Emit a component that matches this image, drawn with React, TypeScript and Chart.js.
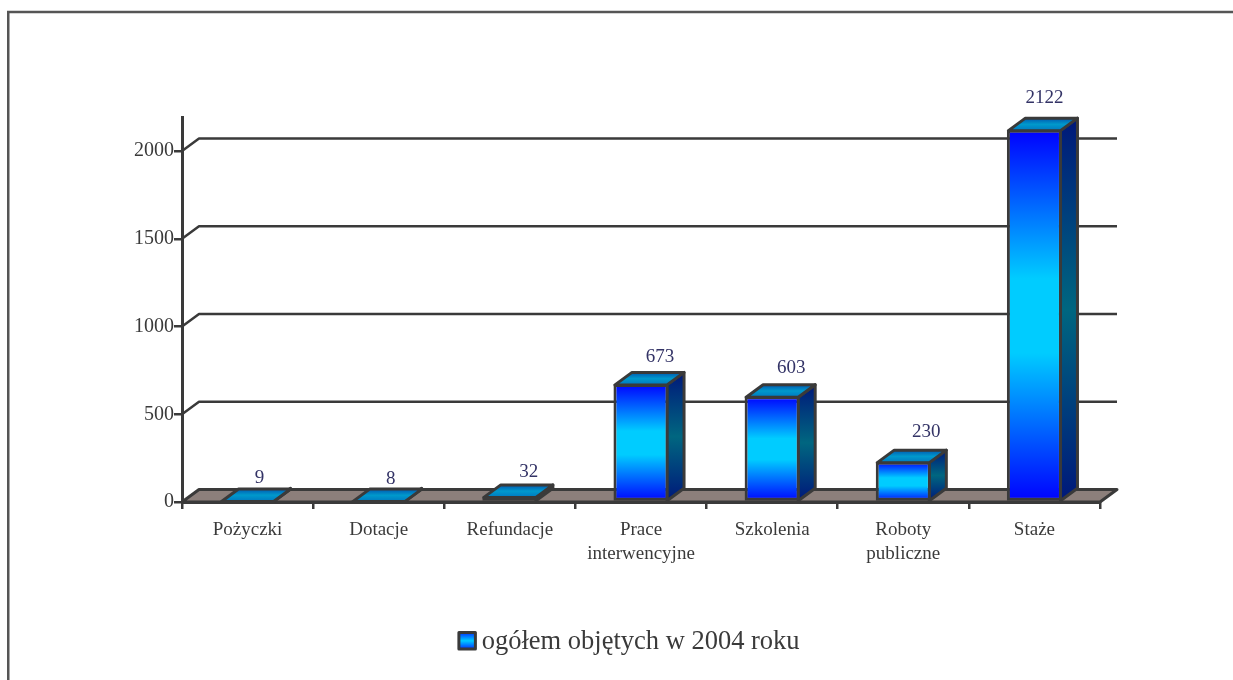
import React, { useEffect, useRef } from "react";
import { Chart, registerables } from "chart.js";

Chart.register(...registerables);

const categories = [
  "Pożyczki",
  "Dotacje",
  "Refundacje",
  ["Prace", "interwencyjne"],
  "Szkolenia",
  ["Roboty", "publiczne"],
  "Staże",
];
const seriesName = "ogółem objętych w 2004 roku";
const seriesValues = [9, 8, 32, 673, 603, 230, 2122];
const tickValues = [0, 500, 1000, 1500, 2000];
const axisMax = 2194;

const labelNudgeX = [12, 12, 19, 19, 19, 23, 10];
const labelNudgeY = [9.5, 9.5, 11.5, 14.5, 15.5, 17, 19];

const DX = 17;
const DY = 12.5;
const INK = "#3a3a3a";
const FONT = "'Liberation Serif', 'Times New Roman', serif";
const LEGEND_BOX = 16.5;
const LEGEND_SHIFT = -12;
const FRONT_STOPS = ["#0000ff", "#0066ff", "#00ccff", "#00ccff", "#0066ff", "#0000ff"];

function vGrad(ctx: CanvasRenderingContext2D, top: number, bottom: number, stops: string[]) {
  const g = ctx.createLinearGradient(0, top, 0, bottom);
  stops.forEach((c, i) => g.addColorStop(i / (stops.length - 1), c));
  return g;
}

function poly(ctx: CanvasRenderingContext2D, pts: number[][]) {
  ctx.beginPath();
  pts.forEach(([x, y], i) => (i ? ctx.lineTo(x, y) : ctx.moveTo(x, y)));
  ctx.closePath();
}

const scene3d = {
  id: "scene3d",
  afterLayout(chart: any) {
    if (chart.legend) {
      chart.legend.left += LEGEND_SHIFT;
      chart.legend.right += LEGEND_SHIFT;
    }
  },
  beforeDraw(chart: any) {
    const { ctx, width, height } = chart;
    ctx.save();
    ctx.fillStyle = "#ffffff";
    ctx.fillRect(0, 0, width, height);
    ctx.strokeStyle = "#555555";
    ctx.lineWidth = 2.5;
    ctx.strokeRect(8.25, 12, width + 20, height + 20);
    ctx.restore();
  },
  beforeDatasetsDraw(chart: any) {
    const { ctx, chartArea, scales } = chart;
    const { left, right } = chartArea;
    const y = scales.y;
    ctx.save();
    ctx.lineJoin = "round";
    ctx.strokeStyle = INK;
    ctx.lineWidth = 2.5;
    y.ticks.forEach((t: any) => {
      if (t.value === 0) return;
      const py = y.getPixelForValue(t.value);
      ctx.beginPath();
      ctx.moveTo(left, py);
      ctx.lineTo(left + DX, py - DY);
      ctx.lineTo(right + DX, py - DY);
      ctx.stroke();
    });
    const y0 = y.getPixelForValue(0);
    poly(ctx, [
      [left, y0],
      [left + DX, y0 - DY],
      [right + DX, y0 - DY],
      [right, y0],
    ]);
    ctx.fillStyle = "#8c7f7b";
    ctx.fill();
    ctx.lineWidth = 3;
    ctx.stroke();
    const meta = chart.getDatasetMeta(0);
    meta.data.forEach((el: any) => {
      const hw = el.width / 2;
      const l = el.x - hw + 1.5;
      const r = el.x + hw - 1.5;
      const top = el.y + 1;
      const base = el.base;
      poly(ctx, [
        [r, top],
        [r + DX, top - DY],
        [r + DX, base - DY],
        [r, base],
      ]);
      ctx.fillStyle = vGrad(ctx, top - DY, base, ["#00187a", "#006680", "#00187a"]);
      ctx.fill();
      ctx.strokeStyle = INK;
      ctx.lineWidth = 3;
      ctx.stroke();
      poly(ctx, [
        [l, top],
        [l + DX, top - DY],
        [r + DX, top - DY],
        [r, top],
      ]);
      ctx.fillStyle = vGrad(ctx, top - DY, top, ["#0058b0", "#0099cc", "#0078c0"]);
      ctx.fill();
      ctx.stroke();
    });
    ctx.restore();
  },
  afterDatasetsDraw(chart: any) {
    const { ctx } = chart;
    const meta = chart.getDatasetMeta(0);
    ctx.save();
    ctx.font = `19px ${FONT}`;
    ctx.fillStyle = "#333366";
    ctx.textAlign = "center";
    ctx.textBaseline = "middle";
    meta.data.forEach((el: any, i: number) => {
      ctx.fillText(String(seriesValues[i]), el.x + labelNudgeX[i], el.y - DY - labelNudgeY[i]);
    });
    ctx.restore();
  },
  afterDraw(chart: any) {
    const hit = chart.legend?.legendHitBoxes?.[0];
    if (!hit) return;
    const { ctx } = chart;
    const x = hit.left + 0.5;
    const y = hit.top + (hit.height - LEGEND_BOX) / 2 - 1.5;
    ctx.save();
    ctx.fillStyle = vGrad(ctx, y, y + LEGEND_BOX, ["#0030ff", "#00ccff", "#0030ff"]);
    ctx.strokeStyle = INK;
    ctx.lineWidth = 3;
    ctx.lineJoin = "round";
    ctx.fillRect(x, y, LEGEND_BOX, LEGEND_BOX);
    ctx.strokeRect(x, y, LEGEND_BOX, LEGEND_BOX);
    ctx.restore();
  },
};

export default function App() {
  const ref = useRef<HTMLCanvasElement>(null);
  useEffect(() => {
    const canvas = ref.current!;
    const chart = new Chart(canvas, {
      type: "bar",
      data: {
        labels: categories as any,
        datasets: [
          {
            label: seriesName,
            data: seriesValues,
            barPercentage: 0.42,
            categoryPercentage: 1,
            borderWidth: 3,
            borderColor: INK,
            borderSkipped: false,
            backgroundColor: (c: any) => {
              const s = c.chart.scales?.y;
              if (!s || !c.parsed) return "#0066ff";
              return vGrad(c.chart.ctx, s.getPixelForValue(c.parsed.y), s.getPixelForValue(0), FRONT_STOPS);
            },
          },
        ],
      },
      options: {
        responsive: false,
        animation: false,
        layout: { padding: { left: 0, right: 133, top: 117, bottom: 14.5 } },
        plugins: {
          tooltip: { enabled: false },
          title: { display: false },
          legend: {
            position: "bottom",
            fullSize: false,
            labels: {
              boxWidth: 10,
              boxHeight: LEGEND_BOX,
              padding: 10,
              color: INK,
              font: { family: FONT, size: 26.5 },
              generateLabels: () => [
                {
                  text: seriesName,
                  fillStyle: "rgba(0,0,0,0)",
                  strokeStyle: "rgba(0,0,0,0)",
                  lineWidth: 0,
                  fontColor: INK,
                  datasetIndex: 0,
                },
              ],
            },
          },
        },
        scales: {
          x: {
            afterFit: (s: any) => {
              s.height = 117;
            },
            grid: {
              drawOnChartArea: false,
              drawTicks: true,
              tickLength: 7,
              color: INK,
              lineWidth: 2.5,
            },
            border: { display: true, color: INK, width: 3 },
            ticks: {
              color: INK,
              maxRotation: 0,
              autoSkip: false,
              padding: 9,
              font: { family: FONT, size: 19, lineHeight: 1.26 },
            },
          },
          y: {
            min: 0,
            max: axisMax,
            afterFit: (s: any) => {
              s.width = 182;
            },
            afterBuildTicks: (s: any) => {
              s.ticks = tickValues.map((value) => ({ value }));
            },
            grid: {
              drawOnChartArea: false,
              drawTicks: true,
              tickLength: 8,
              color: INK,
              lineWidth: 2.5,
            },
            border: { display: true, color: INK, width: 3 },
            ticks: {
              autoSkip: false,
              color: INK,
              padding: 0,
              font: { family: FONT, size: 20 },
              callback: (v: any) => String(v),
            },
          },
        },
      },
      plugins: [scene3d as any],
    } as any);
    return () => chart.destroy();
  }, []);
  return (
    <div style={{ position: "absolute", left: 0, top: 0, width: 1233, height: 680, overflow: "hidden" }}>
      <canvas ref={ref} width={1233} height={680} style={{ display: "block" }} />
    </div>
  );
}
